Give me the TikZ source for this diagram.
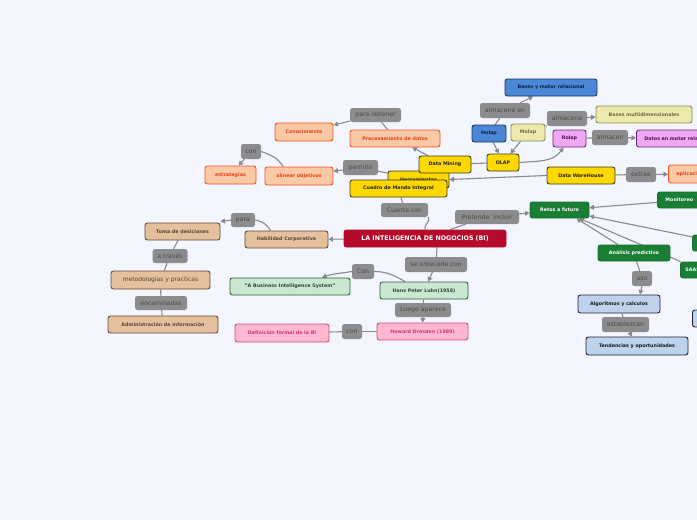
\documentclass[tikz,border=0pt]{standalone}
\usepackage{fontspec}
\setmainfont{DejaVu Sans}
\usetikzlibrary{arrows.meta}
\definecolor{bgc}{HTML}{F3F6FE}
\definecolor{lblfill}{HTML}{8C8C8E}
\definecolor{lbltext}{HTML}{4A4A4D}
\definecolor{edgec}{HTML}{8A8A8C}
\definecolor{mainfill}{HTML}{B50A2A}
\definecolor{tanfill}{HTML}{E5C09C}\definecolor{tanline}{HTML}{5E4A3A}\definecolor{tantext}{HTML}{5A4535}
\definecolor{lgfill}{HTML}{C9E8CF}\definecolor{lgline}{HTML}{2F5F3A}\definecolor{lgtext}{HTML}{2C4A30}
\definecolor{pkfill}{HTML}{FFB7D2}\definecolor{pkline}{HTML}{D04A78}\definecolor{pktext}{HTML}{C83A6E}
\definecolor{pcfill}{HTML}{F9C8A4}\definecolor{pcline}{HTML}{F4521E}\definecolor{pctext}{HTML}{E8421A}
\definecolor{yefill}{HTML}{FFD800}\definecolor{yeline}{HTML}{3A3A2A}\definecolor{yetext}{HTML}{222222}
\definecolor{blfill}{HTML}{4A87D6}\definecolor{blline}{HTML}{1D3460}\definecolor{bltext}{HTML}{0F2140}
\definecolor{pyfill}{HTML}{EDE8AC}\definecolor{pyline}{HTML}{8E8A5A}\definecolor{pytext}{HTML}{6F6A45}
\definecolor{vifill}{HTML}{EFA8F5}\definecolor{viline}{HTML}{6E2470}\definecolor{vitext}{HTML}{4A1050}
\definecolor{dgfill}{HTML}{1A7E35}\definecolor{dgline}{HTML}{16702E}
\definecolor{lbfill}{HTML}{BED2EC}\definecolor{lbline}{HTML}{22252E}\definecolor{lbtext}{HTML}{15181E}
\pgfdeclarelayer{bg}\pgfdeclarelayer{edges}
\pgfsetlayers{bg,edges,main}
\tikzset{
  sz/.style 2 args={minimum width=#1pt, minimum height=#2pt},
  edgebox/.style={anchor=west, text width=#1pt, align=left, inner xsep=8pt},
  lbl/.style={fill=lblfill, text=lbltext, rounded corners=2.5pt, inner sep=0pt,
     font=\fontsize{6.2}{7}\selectfont},
  box/.style={rounded corners=2.5pt, line width=0.9pt, inner sep=0pt,
     font=\fontsize{4.8}{6}\selectfont\bfseries},
  mainbox/.style={box, fill=mainfill, draw=mainfill, text=white, font=\fontsize{6.3}{7}\selectfont\bfseries},
  tanbox/.style={box, fill=tanfill, draw=tanline, text=tantext},
  lgbox/.style={box, fill=lgfill, draw=lgline, text=lgtext},
  pkbox/.style={box, fill=pkfill, draw=pkline, text=pktext},
  pcbox/.style={box, fill=pcfill, draw=pcline, text=pctext},
  yebox/.style={box, fill=yefill, draw=yeline, text=yetext},
  blbox/.style={box, fill=blfill, draw=blline, text=bltext},
  pybox/.style={box, fill=pyfill, draw=pyline, text=pytext},
  vibox/.style={box, fill=vifill, draw=viline, text=vitext},
  dgbox/.style={box, fill=dgfill, draw=dgline, text=white},
  lbbox/.style={box, fill=lbfill, draw=lbline, text=lbtext},
  conn/.style={draw=edgec, line width=1.1pt},
  arr/.style={conn, -{Triangle[width=5pt,length=4.5pt]}},
}
\begin{document}
\begin{tikzpicture}[x=1pt,y=-1pt]
\begin{pgfonlayer}{bg}
\fill[bgc] (0,0) rectangle (697,520);
\end{pgfonlayer}
\useasboundingbox (0,0) rectangle (697,520);

% main
\node[mainbox, sz={162}{17}] (main) at (425,238.5) {LA INTELIGENCIA DE NOGOCIOS (BI)};

% labels
\node[lbl, sz={47}{14}] (cuenta) at (404.5,210) {Cuenta con};
\node[lbl, sz={64}{14}] (pret) at (487,217) {Pretende\ \ incluir};
\node[lbl, sz={62}{15}] (antec) at (436,264.5) {se antecede con};
\node[lbl, sz={22}{15}] (con1) at (363,271.5) {Con};
\node[lbl, sz={56}{14}] (luego) at (423,310) {Luego aparece};
\node[lbl, sz={20}{15}] (con2) at (352,331.5) {con};
\node[lbl, sz={24}{14}] (para) at (243,220) {para};
\node[lbl, sz={35}{14}] (atrav) at (170,256) {a través};
\node[lbl, sz={52}{14}] (encam) at (161,303) {encaminadas};
\node[lbl, sz={51}{14}] (paraob) at (375.5,115) {para obtener};
\node[lbl, sz={20}{15}] (conU) at (251,151.5) {con};
\node[lbl, sz={35}{15}] (permite) at (360.5,167.5) {permite};
\node[lbl, sz={50}{15}] (almen) at (505,110.5) {almacena en};
\node[lbl, sz={40}{15}] (almc) at (567,118.5) {almacena};
\node[lbl, sz={36}{15}] (almcn) at (610,137.5) {almacen};
\node[lbl, sz={30}{15}] (extrae) at (641,174.5) {extrae};
\node[lbl, sz={20}{15}] (uso) at (642,278.5) {uso};
\node[lbl, sz={47}{15}] (estab) at (625.5,324.5) {establezcan};

% tan
\node[tanbox, sz={83}{17}] (hab) at (286.5,239.5) {Habilidad Corporativa};
\node[tanbox, sz={75}{17}] (toma) at (182.5,231.5) {Toma de desiciones};
\node[tanbox, sz={99}{18}, font=\fontsize{6}{7}\selectfont] (metod) at (160.5,280) {metodologias y practicas};
\node[tanbox, sz={110}{17}] (admin) at (163,324.5) {Administración de información};
% light green
\node[lgbox, sz={120}{17}] (abis) at (290,286.5) {"A Business Intelligence System"};
\node[lgbox, sz={88}{17}] (hans) at (424,290.5) {Hans Peter Luhn(1958)};
% pink
\node[pkbox, sz={91}{17}] (howard) at (422.5,331.5) {Howard Dresden (1989)};
\node[pkbox, sz={94}{18}] (defi) at (282,333) {Definición formal de la BI};
% peach
\node[pcbox, sz={58}{18}] (conoc) at (304,132) {Conocimiento};
\node[pcbox, sz={90}{17}] (proc) at (395,138.5) {Procesamiento de datos};
\node[pcbox, sz={51}{18}] (estrat) at (230.5,175) {estrategias};
\node[pcbox, sz={68}{18}] (alinear) at (299,176) {alinear objetivos};
\node[pcbox, sz={60}{18}, edgebox=44] (aplic) at (668,174) {aplicaciones};
% yellow
\node[yebox, sz={61}{17}] (herr) at (418.5,179.5) {Herramientas};
\node[yebox, sz={52}{17}] (dm) at (445,164.5) {Data Mining};
\node[yebox, sz={97}{17}] (cuadro) at (398.5,188.5) {Cuadro de Mando Integral};
\node[yebox, sz={32}{17}] (olap) at (503,162.5) {OLAP};
\node[yebox, sz={68}{17}] (dwh) at (581,175.5) {Data WareHouse};
% blue
\node[blbox, sz={34}{17}] (holap) at (489,133.5) {Holap};
\node[blbox, sz={92}{17}] (bmr) at (551,87.5) {Bases y motor relacional};
% pale yellow
\node[pybox, sz={34}{17}] (molap) at (528,132.5) {Molap};
\node[pybox, sz={96}{17}] (bmd) at (644,114.5) {Bases multidimensionales};
% violet
\node[vibox, sz={33}{17}] (rolap) at (569.5,138.5) {Rolap};
\node[vibox, sz={104}{17}, edgebox=88] (dmr) at (636,138.5) {Datos en motor relacional};
% dark green
\node[dgbox, sz={59}{16}] (retos) at (559.5,210) {Retos a futuro};
\node[dgbox, sz={62}{16}, edgebox=46] (monit) at (657,200) {Monitoreo};
\node[dgbox, sz={60}{16}, anchor=west] (g2) at (692,243) {};
\node[dgbox, sz={72}{16}] (anal) at (634,253) {Análisis predictivo};
\node[dgbox, sz={40}{16}, edgebox=30, inner xsep=4pt] (saas) at (680,270) {SAAS};
% light blue
\node[lbbox, sz={82}{18}] (algo) at (619,304) {Algoritmos y calculos};
\node[lbbox, sz={102}{18}] (tend) at (637,346) {Tendencias y oportunidades};
\node[lbbox, sz={70}{17}, anchor=west] (lb2) at (692,318.5) {};

\begin{pgfonlayer}{edges}
\draw[arr] (main) -- (hab);
\draw[conn] (main.north) to[out=110,in=-50] (cuenta.south east);
\draw[conn] (cuenta) -- (cuadro);
\draw[conn] ([xshift=25pt]main.north) -- (pret);
\draw[arr] (pret) -- (retos);
\draw[conn] ([xshift=12pt]main.south) -- (antec);
\draw[arr] (antec) -- (hans);
\draw[conn] ([xshift=-19pt]hans.north) to[out=150,in=0] (con1.east);
\draw[arr] (con1.west) to[out=190,in=20] ([xshift=32pt]abis.north);
\draw[conn] (hans) -- (luego);
\draw[arr] (luego) -- (howard);
\draw[conn] (howard) -- (con2);
\draw[conn] (con2) -- (defi);
\draw[conn] ([xshift=-16pt]hab.north) to[out=120,in=-10] (para.east);
\draw[arr] (para.west) -- ([yshift=1pt]toma.north east);
\draw[conn] (toma) -- (atrav);
\draw[conn] (atrav) -- (metod);
\draw[conn] (metod) -- (encam);
\draw[conn] (encam) -- (admin);
\draw[conn] (herr) -- (permite);
\draw[arr] (permite) -- (alinear);
\draw[conn] ([xshift=-16pt]alinear.north) to[out=120,in=-20] (conU.east);
\draw[arr] (conU) -- (estrat);
\draw[conn] (proc) -- (paraob);
\draw[arr] (paraob) -- (conoc);
\draw[arr] (dm) -- (proc);
\draw[arr] (dwh.west) -- (herr.east);
\draw[conn] (olap) -- (dm);
\draw[arr] (olap.east) to[out=5,in=-125] ([xshift=-6pt]rolap.south);
\draw[arr] (holap) -- (olap);
\draw[arr] (molap) -- (olap);
\draw[conn] (holap) -- (almen);
\draw[arr] (almen) -- (bmr);
\draw[conn] (molap) -- (almc);
\draw[arr] (almc) -- (bmd);
\draw[conn] (rolap) -- (almcn);
\draw[arr] (almcn) -- (dmr);
\draw[conn] (dwh) -- (extrae);
\draw[arr] (extrae) -- (aplic);
\draw[arr] (monit) -- (retos);
\draw[arr] (g2) -- (retos);
\draw[arr] ([xshift=-16pt]anal.north) -- ([xshift=17pt]retos.south);
\draw[arr] (saas) -- ([xshift=20pt]retos.south);
\draw[conn] (anal) -- (uso);
\draw[arr] (uso.south) -- ([xshift=21pt]algo.north);
\draw[conn] (algo) -- (estab);
\draw[arr] (estab) -- (tend);
\end{pgfonlayer}
\end{tikzpicture}
\end{document}
